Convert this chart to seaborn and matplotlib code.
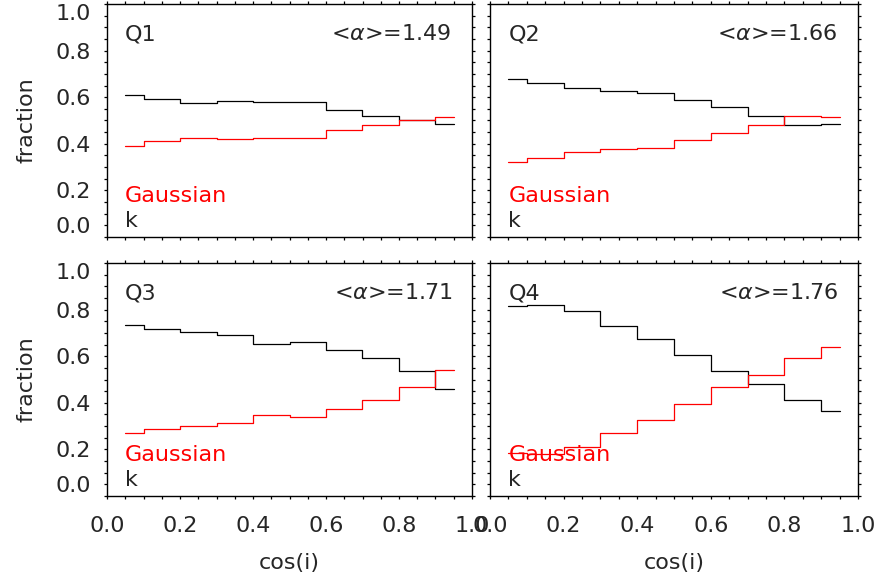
import numpy as np
import pandas as pd
import matplotlib
matplotlib.use("Agg")
import matplotlib.pyplot as plt
import seaborn as sns

# ---- data ----
cos_i = [0.05, 0.15, 0.25, 0.35, 0.45, 0.55, 0.65, 0.75, 0.85, 0.95]
quarters = ["Q1", "Q2", "Q3", "Q4"]
alpha_labels = ["1.49", "1.66", "1.71", "1.76"]
tick_vals = [0.0, 0.2, 0.4, 0.6, 0.8, 1.0]
tick_labels = ["0.0", "0.2", "0.4", "0.6", "0.8", "1.0"]

q1_k = [0.611, 0.593, 0.577, 0.584, 0.579, 0.579, 0.543, 0.521, 0.501, 0.486]
q1_gauss = [0.391, 0.410, 0.424, 0.419, 0.424, 0.424, 0.460, 0.480, 0.501, 0.514]
q2_k = [0.680, 0.660, 0.639, 0.627, 0.617, 0.586, 0.556, 0.521, 0.479, 0.487]
q2_gauss = [0.321, 0.341, 0.363, 0.377, 0.384, 0.417, 0.446, 0.481, 0.521, 0.514]
q3_k = [0.732, 0.715, 0.702, 0.690, 0.652, 0.660, 0.625, 0.591, 0.535, 0.461]
q3_gauss = [0.270, 0.286, 0.299, 0.313, 0.349, 0.340, 0.375, 0.410, 0.466, 0.541]
q4_k = [0.814, 0.820, 0.794, 0.731, 0.674, 0.607, 0.535, 0.481, 0.411, 0.363]
q4_gauss = [0.186, 0.181, 0.210, 0.270, 0.328, 0.396, 0.466, 0.521, 0.591, 0.639]

k_series = [q1_k, q2_k, q3_k, q4_k]
gauss_series = [q1_gauss, q2_gauss, q3_gauss, q4_gauss]

rows = []
for q, kv, gv in zip(quarters, k_series, gauss_series):
    for x, a, b in zip(cos_i, kv, gv):
        rows.append({"quarter": q, "cos_i": x, "model": "k", "fraction": a})
        rows.append({"quarter": q, "cos_i": x, "model": "Gaussian", "fraction": b})
df = pd.DataFrame(rows)

sns.set_theme(style="white")
plt.rcParams["font.family"] = ["DejaVu Sans"]

W, H = 877, 583
fig = plt.figure(figsize=(W / 100, H / 100), dpi=100)

def rect(x0, x1, ytop, ybot):
    return [x0 / W, 1 - ybot / H, (x1 - x0) / W, (ybot - ytop) / H]

rects = [rect(107, 472, 4, 237), rect(490, 858, 4, 237),
         rect(107, 472, 263, 496), rect(490, 858, 263, 496)]

palette = {"Gaussian": "#ff0000", "k": "#000000"}
txtc = "#262626"
fs = 16
minor = np.linspace(0, 1, 21)

for i, (q, a) in enumerate(zip(quarters, alpha_labels)):
    ax = fig.add_axes(rects[i])
    sub = df[df["quarter"] == q]
    sns.lineplot(data=sub, x="cos_i", y="fraction", hue="model", palette=palette,
                 drawstyle="steps-mid", linewidth=0.9, legend=False, ax=ax,
                 estimator=None, sort=True)
    ax.set_xlim(0, 1)
    ax.set_ylim(0, 1)
    for s in ax.spines.values():
        s.set_color("black")
        s.set_linewidth(1.0)
    ax.set_xticks(minor, minor=True)
    ax.set_yticks(minor, minor=True)
    ax.tick_params(which="both", direction="out", length=2.5, width=0.9,
                   color="black", top=True, right=True, bottom=True, left=True)

    if i >= 2:
        ax.set_xticks(tick_vals, tick_labels)
        ax.set_xlabel("cos(i)", fontsize=fs, color=txtc, labelpad=12)
    else:
        ax.set_xticks(tick_vals, [""] * 6)
        ax.set_xlabel("")
    if i % 2 == 0:
        ax.set_yticks(tick_vals, tick_labels)
        labs = ax.get_yticklabels()
        labs[0].set_va("bottom")
        labs[-1].set_va("top")
        ax.set_ylabel("fraction", fontsize=fs, color=txtc, labelpad=14)
    else:
        ax.set_yticks(tick_vals, [""] * 6)
        ax.set_ylabel("")
    ax.tick_params(axis="x", labelsize=fs, labelcolor=txtc, pad=12)
    ax.tick_params(axis="y", labelsize=fs, labelcolor=txtc, pad=9)

    ax.text(0.05, 0.845, q, fontsize=fs, color=txtc, ha="left", va="baseline")
    ax.text(0.945, 0.845, r"<$\alpha$>=" + a, fontsize=fs, color=txtc,
            ha="right", va="baseline")
    ax.text(0.05, 0.15, "Gaussian", fontsize=fs, color="#ff0000",
            ha="left", va="baseline")
    ax.text(0.05, 0.043, "k", fontsize=fs, color=txtc, ha="left", va="baseline")

fig.savefig("out.png", dpi=100)
